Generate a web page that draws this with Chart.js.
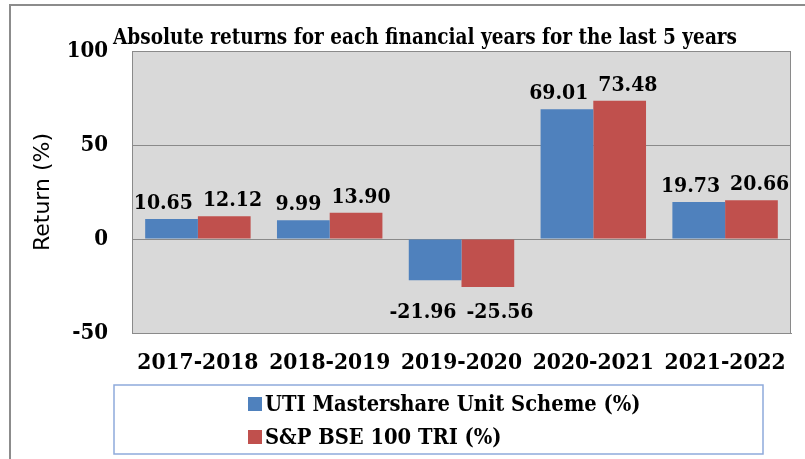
<!DOCTYPE html>
<html><head><meta charset="utf-8">
<script src="https://cdn.jsdelivr.net/npm/chart.js@4/dist/chart.umd.min.js"></script>
<style>html,body{margin:0;padding:0;background:#fff;}</style>
</head><body>
<canvas id="c" width="805" height="459"></canvas>
<script>
// ---- data ----
const categories = ['2017-2018', '2018-2019', '2019-2020', '2020-2021', '2021-2022'];
const utiReturns = [10.65, 9.99, -21.96, 69.01, 19.73];
const bseReturns = [12.12, 13.90, -25.56, 73.48, 20.66];
const seriesNames = ['UTI Mastershare Unit Scheme (%)', 'S&P BSE 100 TRI (%)'];
const yTickValues = [-50, 0, 50, 100];
const chartTitle = 'Absolute returns for each financial years for the last 5 years';
const yAxisTitle = 'Return (%)';

// ---- styles ----
const SERIF = "'DejaVu Serif Condensed', 'DejaVu Serif', serif";
const SANS = "'DejaVu Sans', sans-serif";
const COLORS = ['#4f81bd', '#c0504d'];
const GRID = '#8a8a8a';

const framePlugin = {
  id: 'frame',
  beforeDraw(chart) {
    const {ctx, chartArea: a} = chart;
    ctx.save();
    ctx.fillStyle = '#d9d9d9';
    ctx.fillRect(a.left, a.top, a.right - a.left, a.bottom - a.top);
    ctx.strokeStyle = '#8c8c8c';
    ctx.lineWidth = 2;
    ctx.beginPath();
    ctx.moveTo(10, chart.height);
    ctx.lineTo(10, 5);
    ctx.lineTo(chart.width, 5);
    ctx.stroke();
    ctx.restore();
  },
  afterDraw(chart) {
    const {ctx, chartArea: a} = chart;
    ctx.save();
    ctx.strokeStyle = GRID;
    ctx.lineWidth = 1;
    ctx.strokeRect(a.left + 0.5, a.top + 0.5, a.right - a.left - 1, a.bottom - a.top);
    ctx.fillStyle = '#000';
    ctx.font = `bold 22.5px ${SERIF}`;
    ctx.textAlign = 'center';
    ctx.textBaseline = 'middle';
    ctx.fillText(chartTitle, 425, 38, 624);
    ctx.strokeStyle = '#8eaadb';
    ctx.lineWidth = 1.5;
    ctx.strokeRect(114, 385, 649, 69);
    ctx.textAlign = 'left';
    ctx.font = `bold 21.7px ${SERIF}`;
    chart.data.datasets.forEach((ds, i) => {
      const cy = 404 + i * 33;
      ctx.fillStyle = ds.backgroundColor;
      ctx.fillRect(248, cy - 7, 14, 14);
      ctx.fillStyle = '#000';
      ctx.fillText(ds.label, 265, cy + 1);
    });
    ctx.restore();
  }
};

const labelPlugin = {
  id: 'barLabels',
  afterDatasetsDraw(chart) {
    const {ctx} = chart;
    const m0 = chart.getDatasetMeta(0).data;
    const m1 = chart.getDatasetMeta(1).data;
    ctx.save();
    ctx.font = `bold 21px ${SERIF}`;
    ctx.fillStyle = '#000';
    ctx.textAlign = 'center';
    const gap = 10;
    categories.forEach((c, i) => {
      const vals = [chart.data.datasets[0].data[i], chart.data.datasets[1].data[i]];
      const bars = [m0[i], m1[i]];
      const txt = vals.map(v => v.toFixed(2));
      const w = txt.map(t => ctx.measureText(t).width);
      let x0 = bars[0].x, x1 = bars[1].x;
      const overlap = (x0 + w[0] / 2 + gap) - (x1 - w[1] / 2);
      if (overlap > 0) { x0 -= overlap / 2; x1 += overlap / 2; }
      const xs = [x0, x1];
      if (vals[0] < 0 && vals[1] < 0) {
        const low = Math.max(bars[0].y, bars[1].y);
        ctx.textBaseline = 'top';
        txt.forEach((t, k) => ctx.fillText(t, xs[k], low + 15));
      } else {
        ctx.textBaseline = 'alphabetic';
        txt.forEach((t, k) => ctx.fillText(t, xs[k], bars[k].y - 10));
      }
    });
    ctx.restore();
  }
};

new Chart(document.getElementById('c'), {
  type: 'bar',
  data: {
    labels: categories,
    datasets: [
      {label: seriesNames[0], data: utiReturns, backgroundColor: COLORS[0]},
      {label: seriesNames[1], data: bseReturns, backgroundColor: COLORS[1]}
    ]
  },
  options: {
    responsive: false,
    animation: false,
    devicePixelRatio: 1,
    categoryPercentage: 0.8,
    barPercentage: 1.0,
    layout: {padding: {left: 30, right: 14, top: 51, bottom: 83}},
    plugins: {legend: {display: false}, title: {display: false}, tooltip: {enabled: false}},
    scales: {
      x: {
        grid: {display: false, drawTicks: false},
        border: {display: true, color: GRID},
        afterFit(scale) { scale.height = 43; },
        ticks: {color: '#000', padding: 17, font: {family: SERIF, size: 22.5, weight: 'bold'}, maxRotation: 0}
      },
      y: {
        min: -50, max: 100,
        afterBuildTicks(scale) { scale.ticks = yTickValues.map(v => ({value: v})); },
        afterFit(scale) { scale.width = 102; },
        grid: {color: GRID, lineWidth: 1, drawTicks: false},
        border: {display: true, color: GRID},
        ticks: {color: '#000', padding: 24, font: {family: SERIF, size: 22, weight: 'bold'}},
        title: {display: true, text: yAxisTitle, color: '#000', padding: {top: 0, bottom: 0}, font: {family: SANS, size: 22}}
      }
    }
  },
  plugins: [framePlugin, labelPlugin]
});
</script>
</body></html>
